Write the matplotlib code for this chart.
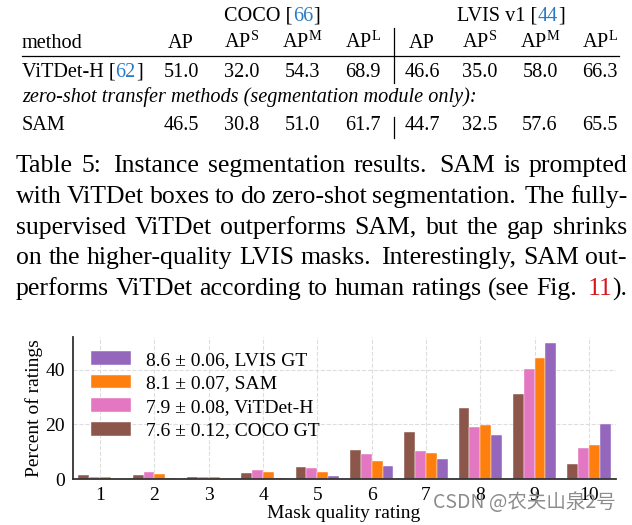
import matplotlib
matplotlib.use('Agg')

import matplotlib.pyplot as plt
from matplotlib.transforms import IdentityTransform
from matplotlib.lines import Line2D
import numpy as np

plt.rcParams['font.family'] = ['Liberation Serif', 'DejaVu Serif']
plt.rcParams['mathtext.fontset'] = 'custom'
plt.rcParams['mathtext.rm'] = 'Liberation Serif'
plt.rcParams['mathtext.it'] = 'Liberation Serif:italic'

W, H = 632, 525
BLUE = '#2b7bc4'
RED = '#d7141a'

# Table 5 데이터
header_cols = ['AP', 'AP$^{\\mathrm{S}}$', 'AP$^{\\mathrm{M}}$', 'AP$^{\\mathrm{L}}$'] * 2
vitdet_vals = [51.0, 32.0, 54.3, 68.9, 46.6, 35.0, 58.0, 66.3]
sam_vals = [46.5, 30.8, 51.0, 61.7, 44.7, 32.5, 57.6, 65.5]

# 캡션 (|..| 사이는 링크 색)
caption_lines = [
    'Table 5: Instance segmentation results. SAM is prompted',
    'with ViTDet boxes to do zero-shot segmentation. The fully-',
    'supervised ViTDet outperforms SAM, but the gap shrinks',
    'on the higher-quality LVIS masks. Interestingly, SAM out-',
    'performs ViTDet according to human ratings (see Fig. |11|).',
]

# Fig. 11 데이터 (percent of ratings)
ratings = np.arange(1, 11)
coco_gt = [1.6, 1.6, 0.6, 2.1, 4.3, 10.8, 17.1, 25.9, 31.0, 5.6]
vitdet_h = [0.6, 2.4, 0.6, 3.2, 3.9, 9.0, 10.4, 18.9, 40.2, 11.2]
sam = [0.6, 1.7, 0.6, 2.4, 2.4, 6.7, 9.7, 19.6, 44.3, 12.3]
lvis_gt = [0.1, 0.5, 0.1, 0.5, 1.0, 4.9, 7.5, 16.0, 49.8, 20.0]
series_labels = ['7.6 ± 0.12, COCO GT', '7.9 ± 0.08, ViTDet-H',
                 '8.1 ± 0.07, SAM', '8.6 ± 0.06, LVIS GT']
series_colors = ['#8c564b', '#e377c2', '#ff7f0e', '#9467bd']

fig = plt.figure(figsize=(W / 100, H / 100), dpi=100)
rend = fig.canvas.get_renderer()
px = IdentityTransform()


def pieces(s, color):
    parts = s.split('|')
    return [(p, color if i % 2 else 'black') for i, p in enumerate(parts) if p]


def width(s, size, style='normal'):
    t = fig.text(0, 0, s, fontsize=size, style=style, transform=px)
    w = t.get_window_extent(rend).width
    t.remove()
    return w


def write(x, y, segs, size, style='normal', ha='left'):
    total = sum(width(s, size, style) for s, c in segs)
    if ha == 'center':
        x -= total / 2
    for s, c in segs:
        fig.text(x, H - y, s, fontsize=size, style=style, color=c,
                 transform=px, va='baseline')
        x += width(s, size, style)


def justify(y, line, size, x0=16, x1=627):
    words = [pieces(w, RED) for w in line.split()]
    ws = [sum(width(s, size) for s, c in w) for w in words]
    # 문장 끝 뒤는 조금 넓게
    weights = [1.5 if line.split()[i][-1] in '.:' else 1.0 for i in range(len(words) - 1)]
    unit = (x1 - x0 - sum(ws)) / sum(weights)
    x = x0
    for i, (w, wd) in enumerate(zip(words, ws)):
        write(x, y, w, size)
        if i < len(weights):
            x += wd + unit * weights[i]


def hline(x0, x1, y):
    fig.add_artist(Line2D([x0, x1], [H - y, H - y], transform=px, color='black', lw=0.9))


def vline(x, y0, y1):
    fig.add_artist(Line2D([x, x], [H - y0, H - y1], transform=px, color='black', lw=0.9))


# ---- 표
TS = 14.6
col_x = [181, 242, 302, 363, 422, 480, 540, 600]
write(272, 21, pieces('COCO [|66|]', BLUE), TS, ha='center')
write(511, 21, pieces('LVIS v1 [|44|]', BLUE), TS, ha='center')
write(22, 48, [('method', 'black')], TS)
for x, h in zip(col_x, header_cols):
    fig.text(x, H - 48, h, fontsize=TS, ha='center', va='baseline', transform=px)
hline(22, 619, 56)
write(22, 77, pieces('ViTDet-H [|62|]', BLUE), TS)
for x, v in zip(col_x, vitdet_vals):
    fig.text(x, H - 77, f'{v:.1f}', fontsize=TS, ha='center', va='baseline', transform=px)
write(22, 102, [('zero-shot transfer methods (segmentation module only):', 'black')], TS, style='italic')
write(22, 130, [('SAM', 'black')], TS)
for x, v in zip(col_x, sam_vals):
    fig.text(x, H - 130, f'{v:.1f}', fontsize=TS, ha='center', va='baseline', transform=px)
vline(394, 28, 83)
vline(394, 117, 138)

# ---- 캡션
CS = 18.5
for i, line in enumerate(caption_lines):
    justify(172 + i * 30.8, line, CS)

# ---- 막대 그래프
ax = fig.add_axes([73 / W, 1 - 479 / H, (616 - 73) / W, (479 - 337) / H])
bw = 0.2
for i, (vals, col, lab) in enumerate(zip([coco_gt, vitdet_h, sam, lvis_gt], series_colors, series_labels)):
    ax.bar(ratings + (i - 1.5) * bw, vals, bw, color=col, edgecolor='white', linewidth=0.3, label=lab)

ax.set_xlim(0.5, 10.5)
ax.set_ylim(0, 52)
ax.set_xticks(ratings)
ax.set_yticks([0, 20, 40])
ax.tick_params(length=0, pad=6, labelsize=14)
ax.grid(True, linestyle='--', color='#dddddd', linewidth=0.8)
ax.set_axisbelow(True)
for s in ['top', 'right']:
    ax.spines[s].set_visible(False)
for s in ['left', 'bottom']:
    ax.spines[s].set_color('#333333')
    ax.spines[s].set_linewidth(1.3)

ax.set_ylabel('Percent of ratings', fontsize=14, va='center')
ax.yaxis.set_label_coords(34 / W, 1 - 408 / H, transform=fig.transFigure)
ax.set_xlabel('Mask quality rating', fontsize=14, va='center')
ax.xaxis.set_label_coords(344 / W, 1 - 514 / H, transform=fig.transFigure)

handles, labels = ax.get_legend_handles_labels()
ax.legend(handles[::-1], labels[::-1], loc='upper left', bbox_to_anchor=(91 / W, 1 - 351 / H),
          bbox_transform=fig.transFigure, frameon=False, fontsize=14, borderpad=0,
          borderaxespad=0, handlelength=2.05, handleheight=0.72, handletextpad=0.78,
          labelspacing=0.3)

# 워터마크
fig.text(433, H - 503, 'CSDN @农夫山泉2号', family=['Noto Sans CJK SC', 'DejaVu Sans'],
         fontsize=14, color='#8c8c8c', va='center', transform=px)

fig.savefig('out.png', dpi=100)
